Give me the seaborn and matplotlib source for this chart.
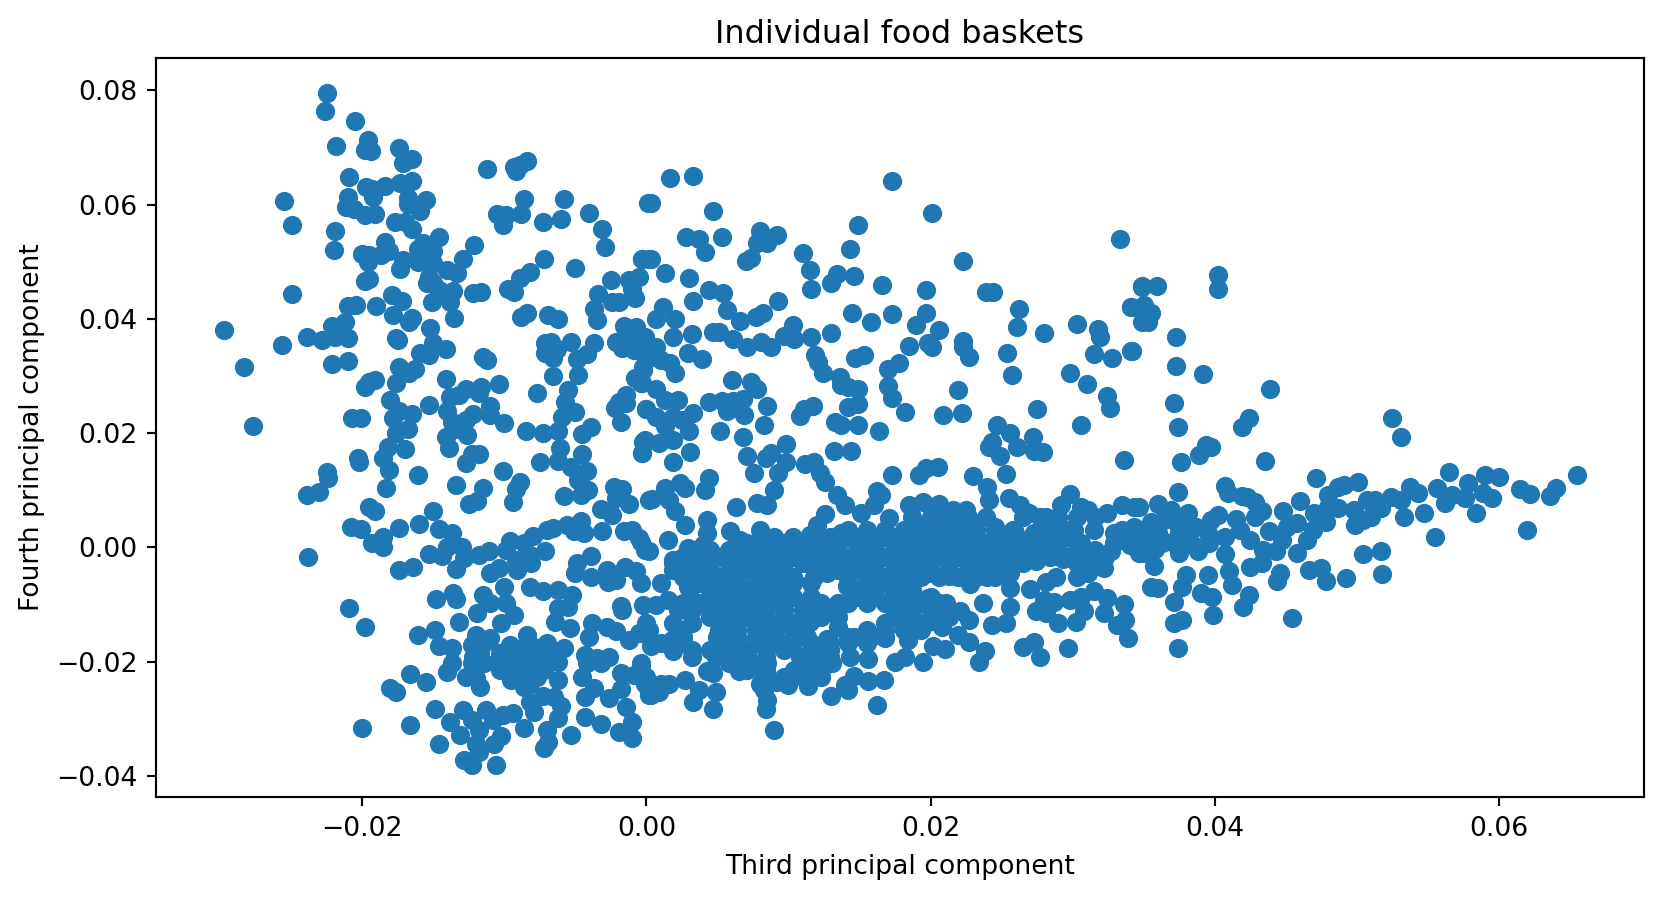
import pandas as pd
import seaborn as sns
import matplotlib.pyplot as plt

# (third, fourth) principal component of each basket, in units of 1e-4
upper_left = [(-225,796),(-226,763),(-205,747),(-218,702),(-196,713),(-198,696),(-194,693),(-174,699),(-165,679),(-171,672),
    (-255,607),(-249,565),(-209,648),(-197,631),(-193,628),(-184,632),(-173,637),(-165,641),(-192,613),(-210,613),
    (-211,595),(-206,593),(-198,581),(-191,583),(-168,611),(-168,601),(-155,608),(-159,588),(-177,570),(-170,569),
    (-165,557),(-219,553),(-220,520),(-184,535),(-146,543),(-157,532),(-161,523),(-150,518),(-200,513),(-195,512),
    (-187,512),(-181,518),(-196,500),(-171,503),(-161,500),(-155,506),(-150,497),(-173,488),(-121,529),(-129,504),
    (-140,486),(-133,480),(-195,470),(-198,467),(-154,462),(-150,462),(-153,474),(-146,451),(-136,449),(-143,445),
    (-151,430),(-138,430),(-122,445),(-116,447),(-249,443),(-210,423),(-204,424),(-190,423),(-179,441),(-172,431),
    (-178,406),(-165,401),(-167,395),(-135,401),(-212,394),(-221,388),(-297,380),(-256,354),(-239,368),(-228,363),
    (-219,369),(-210,366),(-152,384),(-176,366),(-175,363),(-150,357),(-141,347),(-159,340),(-153,337),(-283,315),
    (-221,321),(-210,327),(-174,315),(-163,313),(-167,306),(-176,288),(-195,290),(-191,293),(-198,281),(-180,258),
    (-178,227),(-174,238),(-165,233),(-176,201),(-168,208),(-207,226),(-201,226),(-277,213),(-153,250),(-141,294),
    (-127,278),(-116,280),(-104,286),(-118,270),(-138,264),(-132,267),(-140,238),(-122,233),(-110,248),(-110,232),
    (-127,223),(-137,220),(-100,218),(-141,194),(-126,197),(-133,208),(-112,663),(-93,666),(-89,669),(-84,676),
    (-92,659),(-86,610),(-58,609),(1,602),(-105,583),(-99,582),(-88,584),(-101,564),(-73,569),(-60,574),
    (-40,586),(-31,557),(-29,525),(-72,504),(-82,482),(-89,471),(-50,489),(-3,504),(2,504),(-25,468),
    (-12,468),(-5,473),(-97,453),(-93,447),(-34,443),(-24,429),(-19,429),(-8,437),(-10,453),(-37,417),
    (-35,398),(-84,411),(-88,404),(-69,407),(-62,399),(-16,388),(-7,385),(-71,357),(-67,360),(-53,359),
    (-37,358),(-71,340),(-63,348),(-66,331),(-21,359),(-14,363),(-17,349),(-9,346),(-2,369),(-2,351),
    (-42,339),(-49,329),(-115,334),(-112,328),(-66,300),(-48,302),(0,328),(-2,311),(-8,296),(-3,287),
    (-55,276),(-57,255),(-77,270),(-14,267),(-19,255),(-22,244),(-14,252),(0,242),(-18,220),(-50,237),
    (-59,228),(-62,203),(-73,200),(-85,203),(-39,211),(-45,199),(-1,188)]

lower_left = [(-182,176),(-170,172),(-185,156),(-203,156),(-202,150),(-181,136),(-225,132),(-224,121),(-230,97),(-239,92),
    (-161,127),(-183,104),(-139,174),(-118,164),(-123,164),(-127,147),(-101,134),(-134,109),(-115,104),(-119,81),
    (-125,76),(-89,115),(-92,102),(-94,80),(-75,149),(-61,174),(-45,163),(-62,152),(-53,141),(-42,134),
    (-48,118),(-41,101),(-46,91),(-58,90),(-3,166),(-2,185),(-23,105),(-17,102),(-21,86),(-12,76),
    (-32,67),(-24,57),(2,83),(-150,63),(-195,70),(-191,64),(-208,36),(-201,32),(-185,18),(-193,8),
    (-185,0),(-174,34),(-160,41),(-146,32),(-137,25),(-140,1),(-130,1),(-153,-12),(-144,-15),(-238,-17),
    (-164,-35),(-174,-39),(-134,-38),(-128,-18),(-118,-13),(-111,-7),(-96,11),(-99,-4),(-86,7),(-80,20),
    (-70,31),(-66,34),(-56,39),(-46,47),(-51,28),(-44,26),(-31,29),(-16,28),(-10,31),(-5,16),
    (-1,-4),(-71,-7),(-82,-13),(-92,-22),(-81,-27),(-91,-39),(-110,-45),(-104,-36),(-100,-69),(-82,-70),
    (-73,-77),(-62,-74),(-52,-84),(-49,-28),(-39,-15),(-50,-45),(-39,-51),(-28,-39),(-27,-60),(-21,-57),
    (-15,-34),(-7,-42),(-4,-63),(-18,-102),(-17,-109),(-2,-101),(-115,-84),(-110,-98),(-99,-98),(-136,-80),
    (-134,-90),(-148,-90),(-119,-115),(-93,-118),(-102,-133),(-209,-106),(-198,-140),(-132,-131),(-149,-144),(-161,-153),
    (-62,-106),(-55,-104),(-64,-131),(-54,-141),(-38,-133),(-28,-139),(-21,-147),(-40,-156),(-12,-162),(-5,-150),
    (2,-144),(-84,-153),(-120,-153),(-110,-159),(-146,-172),(-137,-176),(-114,-168),(-123,-171),(-117,-185),(-137,-203),
    (-140,-218),(-123,-203),(-127,-226),(-114,-203),(-117,-244),(-120,-229),(-166,-222),(-155,-236),(-180,-245),(-176,-253),
    (-103,-185),(-96,-171),(-89,-191),(-79,-174),(-68,-179),(-58,-176),(-62,-200),(-103,-214),(-95,-232),(-93,-203),
    (-84,-214),(-77,-226),(-70,-197),(-62,-232),(-86,-244),(-79,-203),(-43,-188),(-35,-194),(-26,-191),(-32,-203),
    (-45,-226),(-42,-203),(-37,-246),(-43,-261),(-26,-264),(-18,-219),(-18,-248),(-4,-206),(-9,-223),(0,-226),
    (2,-258),(-14,-279),(-10,-305),(-19,-322),(-10,-334),(-43,-296),(-32,-308),(-53,-328),(-62,-299),(-60,-277),
    (-65,-261),(-73,-259),(-82,-270),(-79,-287),(-86,-316),(-70,-319),(-69,-340),(-72,-351),(-94,-290),(-101,-293),
    (-102,-330),(-107,-343),(-108,-302),(-113,-284),(-106,-380),(-149,-283),(-129,-284),(-138,-305),(-123,-302),(-131,-328),
    (-118,-319),(-120,-343),(-118,-357),(-146,-344),(-128,-371),(-123,-380),(-166,-310),(-200,-315),
    (-86,-179),(-75,-191),(-86,-203),(-100,-197),(-72,-214),(-91,-226),(-82,-238),(-84,-168),(-70,-168),(-122,-191),(-105,-203)]

upper_middle = [(17,646),(33,650),(3,602),(173,641),(201,585),(47,588),(149,564),(333,539),(28,543),(37,540),
    (53,543),(41,517),(80,553),(92,546),(78,533),(85,532),(74,506),(70,501),(110,516),(143,522),
    (223,501),(3,504),(-3,504),(13,480),(30,471),(115,486),(134,478),(146,475),(130,462),(116,452),
    (166,460),(197,450),(239,447),(244,447),(262,418),(261,386),(280,375),(303,391),(318,382),(319,369),
    (349,456),(341,421),(349,394),(315,339),(328,331),(341,344),(298,305),(310,286),(324,265),(326,244),
    (275,242),(306,214),(44,450),(54,445),(33,432),(93,432),(57,415),(82,410),(77,403),(66,396),
    (12,421),(7,400),(20,399),(103,390),(145,411),(158,394),(173,408),(197,411),(190,389),(206,380),
    (130,375),(116,369),(104,365),(97,370),(47,377),(51,377),(61,364),(71,351),(81,360),(88,351),
    (32,374),(19,368),(185,353),(198,358),(201,351),(223,361),(223,351),(227,333),(254,340),(257,301),
    (153,337),(147,331),(119,337),(121,325),(124,305),(178,322),(170,312),(170,283),(173,261),(182,237),
    (136,299),(137,284),(142,281),(149,277),(149,251),(142,245),(219,275),(209,231),(222,236),(117,248),
    (111,242),(108,230),(133,220),(137,214),(149,214),(164,203),(247,215),(256,200),(272,193),(243,184),
    (241,176),(261,176),(249,160),(273,168),(279,167),(336,153),(253,128),(230,125),(173,126),(192,127),
    (197,139),(205,140),(132,169),(144,168),(112,146),(118,150),(122,130),(126,115),(134,91),(162,98),
    (165,92),(140,74),(60,293),(74,289),(78,277),(85,248),(83,215),(44,255),(53,257),(61,257),
    (68,259),(57,238),(69,232),(52,203),(68,193),(98,181),(88,165),(84,156),(71,160),(98,150),
    (93,130),(76,131),(90,101),(44,121),(41,101),(24,112),(27,104),(13,104),(4,84),(16,83),
    (31,167),(19,149),(30,204),(33,236),(22,258),(13,258),(7,277),(0,242),(7,229),(19,229),
    (25,223),(13,212),(19,188),(9,182),(-1,185),(-3,165),(29,341),(39,330),(20,305),(0,340),
    (7,351),(10,328),(17,322),(-1,369),(-2,316),(-4,287),(63,70),(78,77),(85,74)]

dense_middle = [(20,63),(27,39),(43,48),(43,25),(59,28),(80,31),(66,13),(80,7),(93,4),(15,13),
    (29,-1),(40,4),(2,-7),(-4,10),(107,-10),(118,-19),(115,22),(120,39),(126,58),(151,60),
    (160,74),(171,51),(185,74),(195,80),(206,76),(216,66),(225,66),(240,106),(241,83),(255,86),
    (263,74),(269,60),(281,54),(292,74),(298,93),(306,71),(311,66),(324,61),(335,74),(343,71),
    (137,25),(148,13),(160,19),(174,19),(191,36),(202,31),(216,36),(231,36),(245,36),(259,31),
    (273,25),(287,31),(301,31),(315,31),(329,25),(343,36),(130,-10),(146,-16),(160,-10),(174,-10),
    (188,-4),(202,-4),(216,-10),(231,-16),(245,-10),(259,-10),(274,-23),(287,-4),(293,-20),(306,7),
    (327,-7),(347,-10),(198,-45),(213,-50),(228,-64),(240,-51),(256,-45),(322,-36),(288,-52),(281,-60),
    (303,-51),(311,-45),(184,-39),(169,-51),(155,-45),(141,-39),(127,-45),(141,-68),(158,-80),(174,-74),
    (186,-86),(198,-89),(211,-98),(221,-112),(227,-127),(237,-98),(256,-71),(256,-104),(270,-73),(280,-92),
    (287,-95),(274,-112),(281,-115),(243,-136),(253,-132),(290,-133),(302,-130),(308,-112),(298,-92),(306,-86),
    (315,-77),(324,-89),(336,-99),(322,-115),(337,-127),(331,-136),(339,-159),(273,-165),(265,-175),(277,-191),
    (297,-176),(238,-182),(234,-200),(227,-166),(219,-153),(202,-172),(210,-178),(208,-139),(198,-130),(181,-139),
    (184,-162),(195,-201),(182,-191),(175,-201),(168,-159),(158,-156),(146,-156),(122,-109),(115,-130),(135,-139),
    (127,-161),(113,-156),(94,-168),(118,-185),(131,-202),(143,-191),(156,-196),(146,-225),(140,-241),(156,-233),
    (167,-232),(142,-249),(130,-260),(162,-276),(114,-242),(120,-220),(104,-214),(100,-241),(108,-191),(85,-203),
    (80,-211),(80,-238),(83,-249),(92,-235),(85,-267),(84,-283),(90,-319),(65,-216),(71,-185),(49,-191),
    (47,-220),(49,-252),(33,-270),(47,-283),(37,-249),(27,-232),(16,-238),(10,-238),(3,-258),(9,-252),
    (43,-217),(32,-191),(26,-165),(22,-144),(18,-162),(29,-112),(22,-109),(15,-92),(31,-86),(10,-63),
    (24,-39),(38,-51),(29,-69),(50,-86),(61,-57),(76,-45),(90,-51),(104,-57),(118,-51),(50,-121),
    (50,-156),(64,-115),(78,-109),(92,-98),(64,-156),(78,-144),(92,-139),(104,-139),(38,-22),(52,-16),
    (66,-22),(80,-28),(94,-28),(26,-28),(19,-22),(3,-173),(0,-133),(10,-168),(19,-182),(-3,-150),
    (7,-101),(-4,-203),(-1,-238)]

# points packed into the solid blue mass, where single circles cannot be told apart
dense_mass = [(187,54),(200,54),(213,54),(226,54),(239,54),(265,54),(277,54),(290,54),(303,54),(316,54),
    (142,31),(155,31),(168,31),(181,31),(193,31),(206,31),(219,31),(232,31),(245,31),(258,31),(284,31),(297,31),(335,31),
    (71,7),(84,7),(97,7),(110,7),(123,7),(135,7),(148,7),(161,7),(174,7),(187,7),(200,7),(213,7),(226,7),(239,7),
    (252,7),(265,7),(277,7),(290,7),(303,7),(329,7),(342,7),
    (26,-16),(38,-16),(51,-16),(64,-16),(77,-16),(90,-16),(103,-16),(116,-16),(129,-16),(142,-16),(155,-16),(168,-16),
    (181,-16),(193,-16),(206,-16),(219,-16),(232,-16),(245,-16),(258,-16),(284,-16),(297,-16),(310,-16),(323,-16),
    (19,-39),(32,-39),(45,-39),(58,-39),(71,-39),(84,-39),(97,-39),(135,-39),(148,-39),(161,-39),(174,-39),(187,-39),
    (213,-39),(226,-39),(239,-39),(252,-39),
    (38,-63),(51,-63),(64,-63),(77,-63),(90,-63),(103,-63),(116,-63),(142,-63),(155,-63),(168,-63),(181,-63),
    (64,-86),(77,-86),(90,-86),(103,-86),(116,-86),(148,-86),(161,-86),(174,-86),(187,-86),(200,-86),
    (32,-109),(45,-109),(58,-109),(71,-109),(84,-109),(97,-109),(110,-109),(123,-109),(135,-109),(174,-109),(187,-109),(200,-109),(213,-109),
    (19,-133),(32,-133),(51,-133),(64,-133),(77,-133),(103,-133),(168,-133),(181,-133),(193,-133),(206,-133),
    (26,-156),(51,-156),(64,-156),(77,-156),(90,-156),(103,-156),(142,-156),(155,-156),(168,-156),
    (32,-179),(45,-179),(58,-179),(71,-179),(84,-179),(97,-179),(116,-179),(129,-179),
    (58,-203),(71,-203),(84,-203),(116,-203),(129,-203),(84,-226),(97,-226),(110,-226),(123,-226)]

dense_mass_between = [(90,19),(103,19),(116,19),(129,19),(142,19),(155,19),(168,19),(181,19),(193,19),(206,19),(219,19),
    (232,19),(245,19),(258,19),(271,19),(297,19),(335,19),
    (32,-4),(45,-4),(58,-4),(71,-4),(84,-4),(97,-4),(110,-4),(123,-4),(135,-4),(148,-4),(161,-4),(174,-4),(187,-4),
    (200,-4),(213,-4),(226,-4),(239,-4),(252,-4),(265,-4),(277,-4),(290,-4),(303,-4),(316,-4),
    (19,-27),(32,-27),(45,-27),(58,-27),(71,-27),(84,-27),(97,-27),(110,-27),(123,-27),(135,-27),(148,-27),(161,-27),
    (174,-27),(187,-27),(200,-27),(213,-27),(226,-27),(239,-27),(252,-27),(265,-27),(303,-27),(316,-27),
    (26,-51),(38,-51),(51,-51),(64,-51),(77,-51),(90,-51),(103,-51),(142,-51),(155,-51),(168,-51),(181,-51),(193,-51),
    (206,-51),(219,-51),(232,-51),(245,-51),
    (45,-74),(58,-74),(71,-74),(84,-74),(97,-74),(148,-74),(161,-74),(174,-74),(187,-74),
    (26,-97),(38,-97),(51,-97),(58,-97),(71,-97),(84,-97),(97,-97),(110,-97),(123,-97),(135,-97),(142,-97),(155,-97),
    (168,-97),(181,-97),(193,-97),(206,-97),
    (45,-121),(58,-121),(71,-121),(84,-121),(97,-121),(110,-121),(123,-121),(135,-121),(174,-121),(187,-121),(200,-121),(213,-121),
    (26,-144),(51,-144),(64,-144),(77,-144),(90,-144),(103,-144),(155,-144),(168,-144),(181,-144),(193,-144),
    (51,-167),(64,-167),(77,-167),(90,-167),(103,-167),(116,-167),(129,-167),(142,-167),(155,-167),
    (58,-191),(71,-191),(84,-191),(116,-191),(129,-191),(71,-214),(84,-214),(110,-214),(123,-214),
    (360,25),(370,10),(385,5),(340,5),(375,25),(358,-3)]

right_side = [(402,476),(402,452),(349,457),(359,457),(350,424),(355,410),(353,394),(341,421),(373,368),(342,344),
    (373,317),(392,303),(439,278),(371,252),(374,210),(424,226),(419,211),(525,226),(531,194),(394,179),
    (397,175),(389,162),(376,149),(435,152),(471,121),(565,132),(655,127),(590,127),(600,123),(578,112),
    (537,106),(501,115),(491,109),(487,106),(480,92),(556,104),(615,102),(622,94),(640,104),(636,90),
    (595,86),(589,95),(576,86),(567,92),(584,60),(620,30),(555,18),(547,60),(562,77),(543,95),
    (533,53),(531,83),(524,89),(513,83),(507,83),(510,54),(499,39),(504,48),(517,69),(498,66),
    (487,69),(480,71),(470,60),(460,81),(448,64),(478,45),(465,13),(469,31),(458,42),(451,36),
    (438,28),(447,13),(443,-7),(458,-10),(433,63),(428,80),(423,89),(419,90),(409,95),(407,108),
    (402,57),(397,48),(415,49),(428,54),(418,31),(425,13),(407,19),(407,-11),(434,-4),(433,-27),
    (425,-35),(410,-42),(412,-66),(395,-48),(380,-48),(377,-69),(390,-79),(398,-87),(424,-83),(420,-104),
    (399,-119),(371,-95),(377,-127),(371,-133),(374,-176),(355,-69),(360,-71),(454,-124),(446,-45),(444,-58),
    (466,-39),(475,-36),(478,-58),(492,-54),(518,-47),(517,-6),(504,-12),(357,-33),(375,-10),(388,-7),
    (396,7),(350,-10),(363,7),(374,97),(360,76),(347,71),(381,60),(369,66),(387,36),(355,45),
    (364,48),(374,39),(346,31),(353,19),(395,25),(381,19)]

x_ticks = [-0.02, 0.00, 0.02, 0.04, 0.06]
y_ticks = [-0.04, -0.02, 0.00, 0.02, 0.04, 0.06, 0.08]

baskets = pd.DataFrame(upper_left + lower_left + upper_middle + dense_middle + dense_mass + dense_mass_between + right_side,
                       columns=["third", "fourth"]) / 1e4

fig = plt.figure(figsize=(1663 / 192, 898 / 192), dpi=192)
ax = fig.add_axes([156 / 1663, 1 - 797 / 898, 1488 / 1663, 739 / 898])

sns.scatterplot(data=baskets, x="third", y="fourth", color="#1f77b4", s=52, linewidth=0, ax=ax)

ax.set_xlim(-0.0345, 0.0702)
ax.set_ylim(-0.04366, 0.08565)
ax.set_xticks(x_ticks)
ax.set_yticks(y_ticks)
ax.set_title("Individual food baskets", pad=5.5)
ax.set_xlabel("Third principal component", labelpad=4.5)
ax.set_ylabel("Fourth principal component")

fig.savefig("out.png", dpi=192)
plt.close(fig)
